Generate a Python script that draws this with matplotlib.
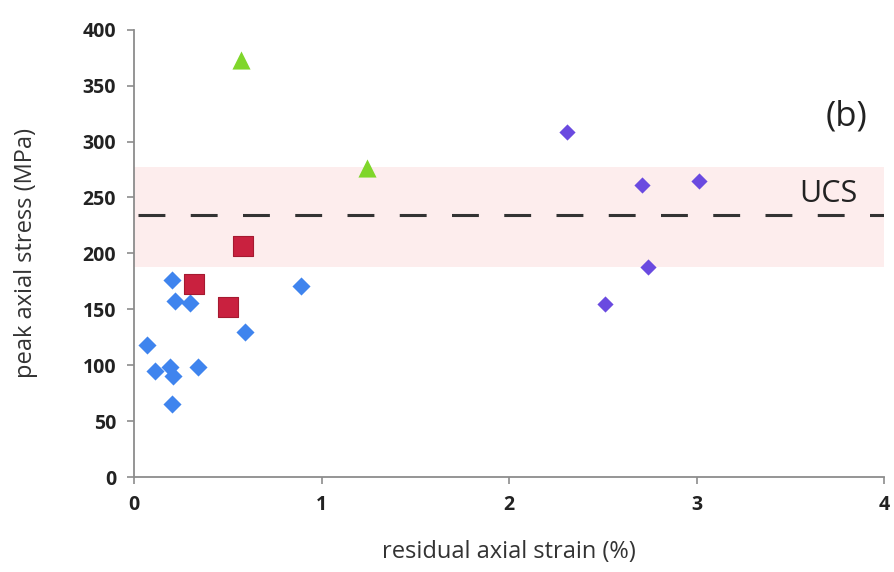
import numpy as np
import matplotlib
matplotlib.use("Agg")
import matplotlib.pyplot as plt

plt.rcParams['font.family'] = ['Open Sans', 'DejaVu Sans']

# blue diamonds
blue_x = [0.07, 0.11, 0.20, 0.22, 0.30, 0.89, 0.59, 0.19, 0.21, 0.34, 0.20]
blue_y = [118, 95, 176, 157, 156, 171, 130, 98, 90, 98, 65]
# purple diamonds
purple_x = [2.31, 2.71, 3.01, 2.74, 2.51]
purple_y = [309, 261, 265, 188, 155]
# red squares
red_x = [0.32, 0.58, 0.50]
red_y = [173, 207, 152]
# green triangles
green_x = [0.57, 1.24]
green_y = [373, 276]

ucs = 234
ucs_low, ucs_high = 188, 277

fig = plt.figure(figsize=(8.94, 5.72), dpi=100)
ax = fig.add_axes([0.150, 0.166, 0.839, 0.782])

ax.axhspan(ucs_low, ucs_high, color='#fdeded', lw=0, zorder=0)
ax.axhline(ucs, xmin=0.005, color='#333333', lw=2.2, dashes=(8.8, 8.3), zorder=1)

ax.scatter(blue_x, blue_y, marker='D', s=85, color='#3f84ee', lw=0, zorder=3)
ax.scatter(purple_x, purple_y, marker='D', s=68, color='#6a4ae0', lw=0, zorder=3)
ax.scatter(red_x, red_y, marker='s', s=200, color='#c9213f', edgecolor='#a51a30', lw=0.8, zorder=4)
ax.scatter(green_x, green_y, marker='^', s=170, color='#7fd62a', lw=0, zorder=3)

ax.text(3.70, 240, 'UCS', fontsize=22, ha='center', va='bottom', color='#222222')
ax.text(3.80, 322, '(b)', fontsize=25, ha='center', va='center', color='#222222')

ax.set_xlim(0, 4)
ax.set_ylim(0, 400)
ax.set_xticks([0, 1, 2, 3, 4])
ax.set_yticks(np.arange(0, 401, 50))
for s in ['top', 'right']:
    ax.spines[s].set_visible(False)
for s in ['left', 'bottom']:
    ax.spines[s].set_color('#8c8c8c')
    ax.spines[s].set_linewidth(1.3)
ax.tick_params(colors='#8c8c8c', length=5, width=1.2, labelcolor='#222222',
               labelsize=14)
for lbl in ax.get_xticklabels() + ax.get_yticklabels():
    lbl.set_fontweight('bold')
    lbl.set_fontstretch('condensed')
ax.tick_params(axis='x', pad=8)
ax.tick_params(axis='y', pad=8)

ax.set_xlabel('residual axial strain (%)', fontsize=17, color='#333333', labelpad=18)
ax.set_ylabel('peak axial stress (MPa)', fontsize=17, color='#333333', labelpad=32)

fig.savefig('out.png', dpi=100)
